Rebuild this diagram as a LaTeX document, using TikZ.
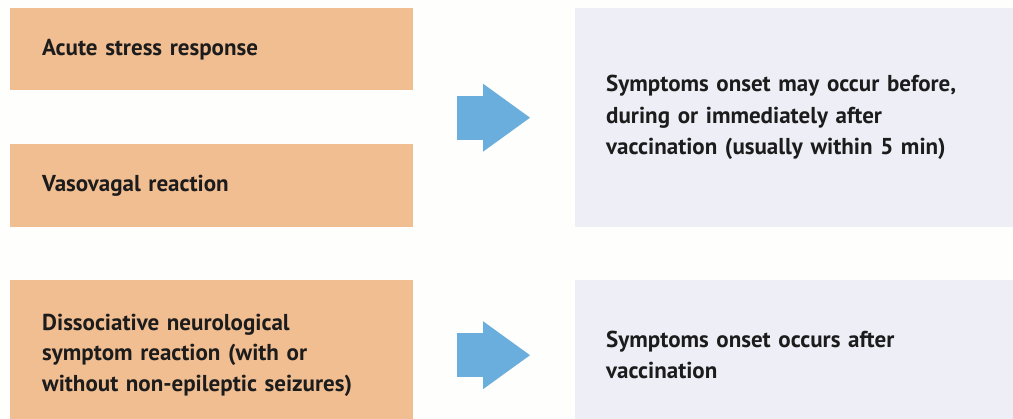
\documentclass[tikz,border=0pt]{standalone}
\usepackage{fontspec}
\setmainfont{PT Sans}
\usetikzlibrary{arrows.meta,positioning}
\definecolor{boxorange}{RGB}{241,190,146}
\definecolor{boxlilac}{RGB}{238,238,246}
\definecolor{arrowblue}{RGB}{106,174,221}
\definecolor{bgwhite}{RGB}{254,254,252}
\definecolor{txtdark}{RGB}{28,28,28}

\begin{document}
\begin{tikzpicture}[x=1pt,y=-1pt,
  cause/.style={fill=boxorange,anchor=north west,minimum width=403pt,text width=339pt,inner xsep=32pt,inner ysep=0pt,align=left,text=txtdark,font=\bfseries\fontsize{23}{30.5}\selectfont},
  onset/.style={fill=boxlilac,anchor=north west,minimum width=438pt,text width=376pt,inner xsep=31pt,inner ysep=0pt,align=left,text=txtdark,font=\bfseries\fontsize{23}{31.5}\selectfont},
  bigarrow/.style={draw=arrowblue,line width=44pt,-{Triangle[length=47pt,width=68pt,line width=0pt]}}]
\fill[bgwhite] (0,0) rectangle (1013,419);
\useasboundingbox (0,0) rectangle (1013,419);
% left column: reactions
\node[cause,minimum height=82pt] (stress) at (10,8) {Acute stress response};
\node[cause,minimum height=83pt] (vaso) at (10,144) {Vasovagal reaction};
\node[cause,minimum height=150pt] (dissoc) at (10,280) {Dissociative neurological\\symptom reaction (with or\\without non-epileptic seizures)};
% right column: onset
\node[onset,minimum height=219pt] (early) at (575,8) {Symptoms onset may occur before,\\during or immediately after\\vaccination (usually within 5~min)};
\node[onset,minimum height=150pt] (late) at (575,280) {Symptoms onset occurs after\\vaccination};
% arrows
\draw[bigarrow,shorten <=44pt,shorten >=45pt] (stress.east |- early.west) -- (early.west);
\draw[bigarrow,shorten <=44pt,shorten >=45pt] (dissoc.east |- late.west) -- (late.west);
\end{tikzpicture}
\end{document}
